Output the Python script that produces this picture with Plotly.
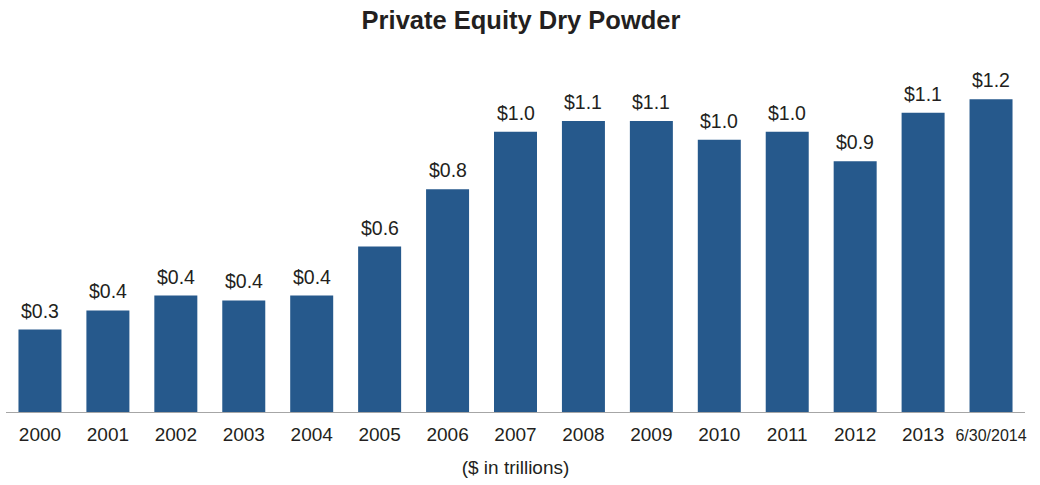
import plotly.graph_objects as go

# Private equity dry powder, $ trillions
periods = ["2000", "2001", "2002", "2003", "2004", "2005", "2006", "2007",
           "2008", "2009", "2010", "2011", "2012", "2013", "6/30/2014"]
dry_powder = [0.306, 0.377, 0.432, 0.414, 0.432, 0.614, 0.826, 1.04,
              1.08, 1.08, 1.01, 1.04, 0.93, 1.11, 1.16]
tick_text = periods[:-1] + ['<span style="font-size:16px">6/30/2014</span>']

BAR_COLOR = "#26598C"
TEXT_COLOR = "#231F20"
FONT = "Liberation Sans, Arial, Helvetica, sans-serif"

fig = go.Figure(
    go.Bar(
        x=periods,
        y=dry_powder,
        marker=dict(color=BAR_COLOR, line=dict(width=0)),
        hoverinfo="skip",
    )
)

# Value labels above each bar (category index positions on the x axis)
for idx, value in enumerate(dry_powder):
    fig.add_annotation(
        x=idx,
        y=value,
        xref="x",
        yref="y",
        text=f"${value:.1f}",
        showarrow=False,
        xanchor="center",
        yanchor="bottom",
        yshift=6,
        font=dict(size=19.5, color=TEXT_COLOR, family=FONT),
    )

fig.update_layout(
    width=1040,
    height=485,
    margin=dict(l=6, r=15, t=60, b=73),
    paper_bgcolor="white",
    plot_bgcolor="white",
    bargap=0.367,
    showlegend=False,
    font=dict(family=FONT, color=TEXT_COLOR),
    title=dict(
        text="<b>Private Equity Dry Powder</b>",
        x=0.501,
        xanchor="center",
        y=0.959,
        yanchor="middle",
        xref="container",
        yref="container",
        font=dict(size=25.5, color=TEXT_COLOR, family=FONT),
    ),
    xaxis=dict(
        type="category",
        categoryorder="array",
        categoryarray=periods,
        range=[-0.5, len(periods) - 0.5],
        tickmode="array",
        tickvals=periods,
        ticktext=tick_text,
        showline=True,
        linecolor="#A6A6A6",
        linewidth=1,
        ticks="",
        ticklabelstandoff=5,
        showgrid=False,
        tickfont=dict(size=19, color=TEXT_COLOR, family=FONT),
        title=dict(
            text="($ in trillions)",
            font=dict(size=19, color=TEXT_COLOR, family=FONT),
            standoff=16,
        ),
    ),
    yaxis=dict(
        range=[0, 1.306],
        visible=False,
        showgrid=False,
        zeroline=False,
    ),
)

fig.write_html("out.html")
